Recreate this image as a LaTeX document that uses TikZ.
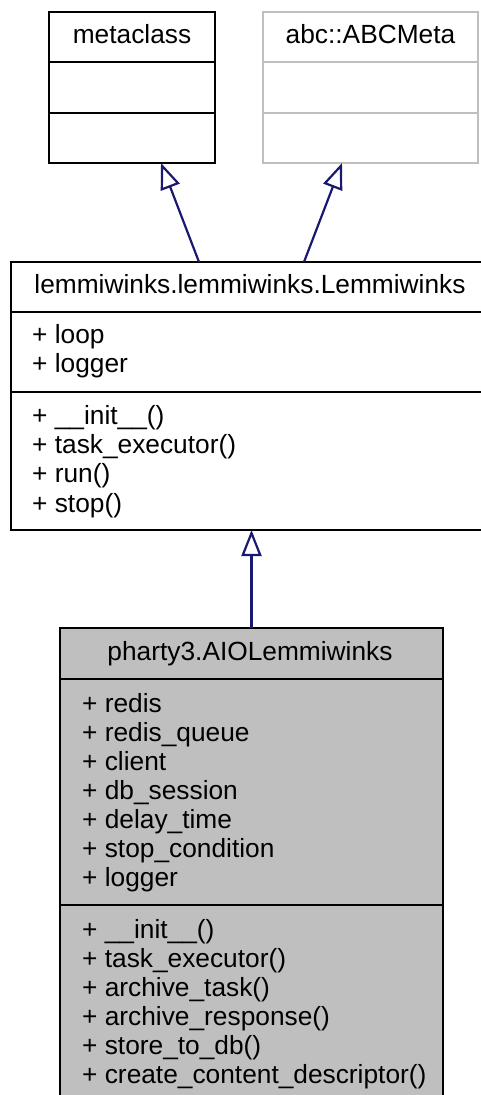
\documentclass[tikz,border=0pt]{standalone}
\usepackage{fontspec}
\setmainfont{Liberation Sans}
\usetikzlibrary{arrows.meta}
\definecolor{edgeblue}{HTML}{191970}
\definecolor{boxgrey}{HTML}{BFBFBF}
\begin{document}
\begin{tikzpicture}[x=1pt,y=-1pt,
  box/.style={draw, line width=2.2pt, anchor=north west, inner sep=0pt, outer sep=0pt},
  txt/.style={inner sep=0pt, font=\fontsize{26.3}{29}\selectfont},
  title/.style={txt, anchor=base},
  member/.style={txt, anchor=base west},
  divider/.style={line width=2.2pt},
  inherit/.style={draw=edgeblue, line width=2.2pt, -{Triangle[open, length=26pt, width=20pt, line width=2.2pt]}}
]
\useasboundingbox (0,0) rectangle (480,1095);

% metaclass
\node[box, minimum width=166pt, minimum height=151pt] (meta) at (49,12) {};
\draw[divider] (meta.west |- 0,62) -- (meta.east |- 0,62);
\draw[divider] (meta.west |- 0,113) -- (meta.east |- 0,113);
\node[title] (metat) at (132,43) {metaclass};

% abc::ABCMeta
\node[box, draw=boxgrey, minimum width=215pt, minimum height=151pt] (abc) at (263,12) {};
\draw[divider, boxgrey] (abc.west |- 0,62) -- (abc.east |- 0,62);
\draw[divider, boxgrey] (abc.west |- 0,113) -- (abc.east |- 0,113);
\node[title] (abct) at (370.5,43) {abc::ABCMeta};

% Lemmiwinks
\node[box, minimum width=482pt, minimum height=268pt] (lemm) at (11,262) {};
\draw[divider] (lemm.west |- 0,312) -- (lemm.east |- 0,312);
\draw[divider] (lemm.west |- 0,392) -- (lemm.east |- 0,392);
\node[title] (lemmt) at (250,293) {lemmiwinks.lemmiwinks.Lemmiwinks};
\node[member] (la1) at (32,343) {+ loop};
\node[member] (la2) at (32,372) {+ logger};
\node[member] (lm1) at (32,424) {+ \_\_init\_\_()};
\node[member] (lm2) at (32,453) {+ task\_executor()};
\node[member] (lm3) at (32,482) {+ run()};
\node[member] (lm4) at (32,512) {+ stop()};

% pharty3.AIOLemmiwinks
\node[box, fill=boxgrey, minimum width=383pt, minimum height=472pt] (ph) at (60,628) {};
\draw[divider] (ph.west |- 0,679) -- (ph.east |- 0,679);
\draw[divider] (ph.west |- 0,905) -- (ph.east |- 0,905);
\node[title] (pht) at (250,660) {pharty3.AIOLemmiwinks};
\node[member] (pa1) at (82,712) {+ redis};
\node[member] (pa2) at (82,741) {+ redis\_queue};
\node[member] (pa3) at (82,770) {+ client};
\node[member] (pa4) at (82,799) {+ db\_session};
\node[member] (pa5) at (82,828) {+ delay\_time};
\node[member] (pa6) at (82,857) {+ stop\_condition};
\node[member] (pa7) at (82,886) {+ logger};
\node[member] (pm1) at (82,938) {+ \_\_init\_\_()};
\node[member] (pm2) at (82,967) {+ task\_executor()};
\node[member] (pm3) at (82,996) {+ archive\_task()};
\node[member] (pm4) at (82,1025) {+ archive\_response()};
\node[member] (pm5) at (82,1054) {+ store\_to\_db()};
\node[member] (pm6) at (82,1083) {+ create\_content\_descriptor()};

% inheritance edges
\draw[inherit] ([xshift=-53pt]lemm.north) -- ([xshift=29pt]meta.south);
\draw[inherit] ([xshift=52pt]lemm.north) -- ([xshift=-28.5pt]abc.south);
\draw[inherit] (ph.north) -- (ph.north |- lemm.south);
\end{tikzpicture}
\end{document}
